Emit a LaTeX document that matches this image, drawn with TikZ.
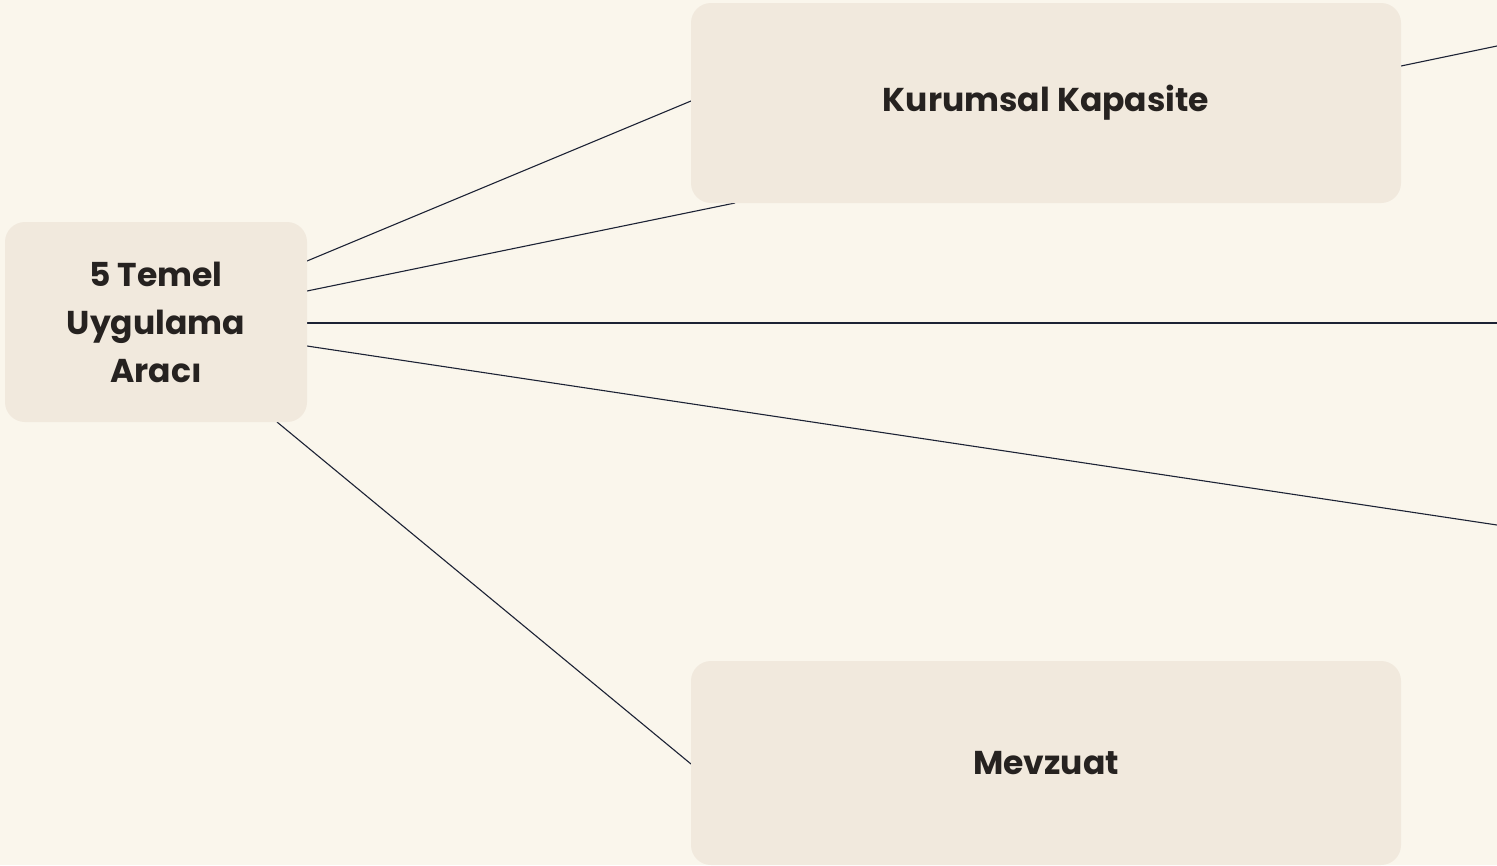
\documentclass[tikz,border=0pt]{standalone}
\usepackage{fontspec}
\setmainfont{Poppins}
\definecolor{bg}{HTML}{FAF6EC}
\definecolor{boxfill}{HTML}{F1E9DD}
\definecolor{ink}{HTML}{262220}
\definecolor{wire}{HTML}{1C2234}
\begin{document}
\begin{tikzpicture}[x=1pt,y=-1pt,
  box/.style={fill=boxfill, rounded corners=20pt, inner sep=0pt, align=center,
    font=\fontsize{33}{48}\selectfont\bfseries, text=ink},
  wirel/.style={draw=wire, line width=1.1pt}]
\fill[bg] (0,0) rectangle (1497,865);
\useasboundingbox (0,0) rectangle (1497,865);
% connectors first (boxes drawn above)
\coordinate (cA) at (307,261);
\coordinate (cB) at (307,291);
\coordinate (cC) at (307,323);
\coordinate (cD) at (307,346);
\coordinate (cE) at (277,422);
\coordinate (kIn) at (691,101);
\coordinate (kHid) at (735,203);
\coordinate (kOut) at (1401,66);
\coordinate (oA) at (1497,46);
\coordinate (oC) at (1497,323);
\coordinate (oD) at (1497,525);
\coordinate (mIn) at (691,764);
\draw[wirel] (cA) -- (kIn);
\draw[wirel] (cB) -- (kHid);
\draw[wirel] (kOut) -- (oA);
\draw[wirel] (cC) -- (oC);
\draw[wirel] (cD) -- (oD);
\draw[wirel] (cE) -- (mIn);
% boxes
\node[box, minimum width=302pt, minimum height=200pt] (c) at (156,322) {5 Temel\\Uygulama\\Aracı};
\node[box, minimum width=710pt, minimum height=200pt] (k) at (1046,103) {Kurumsal Kapasite};
\node[box, minimum width=710pt, minimum height=204pt] (m) at (1046,763) {Mevzuat};
\end{tikzpicture}
\end{document}
